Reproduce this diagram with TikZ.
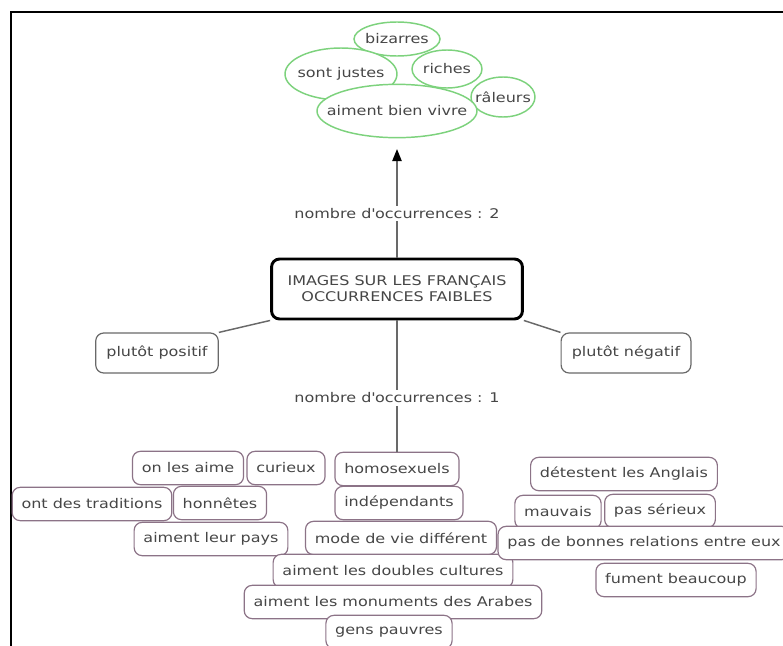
\documentclass[tikz,border=0pt]{standalone}
\usepackage{fontspec}
\setmainfont{DejaVu Sans}[FakeStretch=1.2]
\usetikzlibrary{shapes.geometric,arrows.meta}

\definecolor{txtgray}{RGB}{70,70,70}
\definecolor{bubgreen}{RGB}{125,210,125}
\definecolor{boxmauve}{RGB}{140,115,135}
\definecolor{linegray}{RGB}{105,105,105}

\newcommand{\bubtxt}[1]{\makebox[0pt]{#1}}

\begin{document}
\begin{tikzpicture}[x=0.75pt,y=0.75pt,yscale=-1,xscale=1,
    every node/.style={font=\fontsize{10pt}{12pt}\selectfont, text=txtgray},
    mainbox/.style={draw=black, line width=2.2pt, rounded corners=6pt, fill=white, align=center, inner xsep=12pt, minimum height=45pt},
    sidebox/.style={draw=linegray, line width=0.9pt, rounded corners=6pt, fill=white, inner xsep=8pt, minimum height=30pt},
    cell/.style={draw=boxmauve, line width=0.9pt, rounded corners=6pt, fill=white, inner xsep=7pt, minimum height=25pt},
    bubble/.style={ellipse, draw=bubgreen, line width=1.1pt, fill=white, inner sep=0pt},
    link/.style={draw=linegray, line width=1.1pt},
    occ/.style={fill=white, inner sep=2pt}]
        \useasboundingbox (0,0) rectangle (783,646);
        %Frame
        \draw [line width=1.5pt] (11,646) -- (11,12) -- (783,12) ;

        %Shape: Ellipse
        \node [bubble, minimum width=64.5pt, minimum height=25.5pt] (bizarres) at (397,39) {\bubtxt{bizarres}};
        %Shape: Ellipse
        \node [bubble, minimum width=84pt, minimum height=39pt] (justes) at (341,74) {\bubtxt{sont justes}};
        %Shape: Ellipse
        \node [bubble, minimum width=52.5pt, minimum height=28.5pt] (riches) at (447,69) {\bubtxt{riches}};
        %Shape: Ellipse
        \node [bubble, minimum width=48pt, minimum height=30pt] (raleurs) at (503,97) {\bubtxt{râleurs}};
        %Shape: Ellipse
        \node [bubble, minimum width=120pt, minimum height=40pt] (vivre) at (397,111) {\bubtxt{aiment bien vivre}};

        % Text Node
        \node [mainbox] (images) at (397,289) {IMAGES SUR LES FRANÇAIS\\OCCURRENCES FAIBLES};
        % Text Node
        \node [sidebox] (positif) at (157,353) {plutôt positif};
        % Text Node
        \node [sidebox] (negatif) at (626,353) {plutôt négatif};

        % Bottom cells, left
        \node [cell] (aime) at (188,468) {on les aime};
        \node [cell] (curieux) at (286,468) {curieux};
        \node [cell] (traditions) at (92,504) {ont des traditions};
        \node [cell] (honnetes) at (220,503) {honnêtes};
        \node [cell] (pays) at (211,539) {aiment leur pays};
        % Bottom cells, middle
        \node [cell] (homos) at (397,469) {homosexuels};
        \node [cell] (independants) at (399,503) {indépendants};
        \node [cell] (modevie) at (401,538) {mode de vie différent};
        \node [cell] (doubles) at (393,571) {aiment les doubles cultures};
        \node [cell] (monuments) at (393,602) {aiment les monuments des Arabes};
        \node [cell] (pauvres) at (389,632) {gens pauvres};
        % Bottom cells, right
        \node [cell] (anglais) at (624,474) {détestent les Anglais};
        \node [cell] (mauvais) at (558,512) {mauvais};
        \node [cell] (serieux) at (660,511) {pas sérieux};
        \node [cell] (relations) at (644,543) {pas de bonnes relations entre eux};
        \node [cell] (fument) at (676,580) {fument beaucoup};

        %Connectors
        \draw [link, -{Triangle[color=black, length=9pt, width=7pt]}, shorten >=8pt] (images) -- (vivre)
            node [occ, pos=0.37] (occdeux) {nombre d\textquotesingle occurrences : 2};
        \draw [link] (images) -- (homos)
            node [occ, pos=0.59] (occun) {nombre d\textquotesingle occurrences : 1};
        \draw [link] (images.south west) -- (positif.north east) ;
        \draw [link] (images.south east) -- (negatif.north west) ;
    \end{tikzpicture}
\end{document}
